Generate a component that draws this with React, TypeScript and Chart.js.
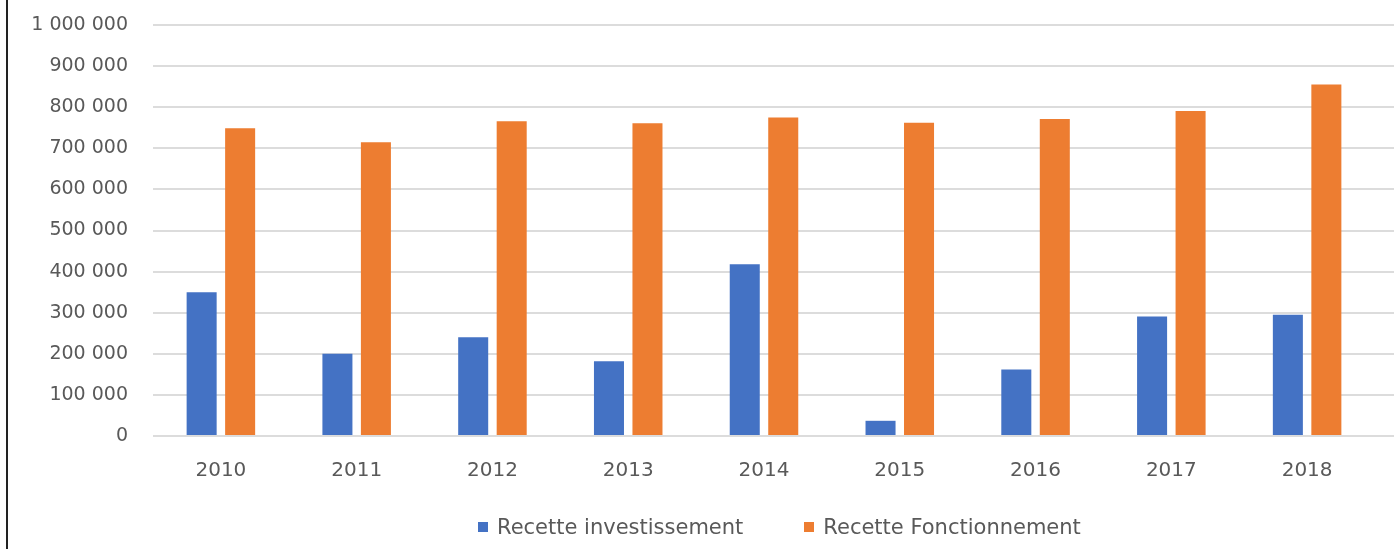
import React, { useEffect, useRef } from 'react';
import { Chart, registerables } from 'chart.js';

Chart.register(...registerables);

const years = ['2010', '2011', '2012', '2013', '2014', '2015', '2016', '2017', '2018'];
const investissement = [350000, 200000, 240000, 182000, 418000, 37000, 162000, 291000, 295000];
const fonctionnement = [749000, 715000, 766000, 761000, 775000, 762000, 771000, 791000, 855000];
const seriesLabels = ['Recette investissement', 'Recette Fonctionnement'];
const seriesColors = ['#4472C4', '#ED7D31'];
const yMin = 0;
const yMax = 1000000;
const yStep = 100000;

const W = 1394;
const H = 549;
const FONT = '"DejaVu Sans", sans-serif';
const TEXT = '#595959';
const GRID = '#dcdcdc';

const fmt = (v: number) => String(v).replace(/\B(?=(\d{3})+(?!\d))/g, ' ');

const extendGrid = {
  id: 'extendGrid',
  beforeDatasetsDraw(chart: any) {
    const { ctx, chartArea, scales } = chart;
    const y = scales.y;
    ctx.save();
    ctx.strokeStyle = GRID;
    ctx.lineWidth = 2;
    y.ticks.forEach((_t: any, i: number) => {
      const py = Math.round(y.getPixelForTick(i));
      ctx.beginPath();
      ctx.moveTo(chartArea.right, py);
      ctx.lineTo(chart.width, py);
      ctx.stroke();
    });
    ctx.restore();
  },
};

export default function App() {
  const ref = useRef<HTMLCanvasElement>(null);

  useEffect(() => {
    if (!ref.current) return;
    const chart = new Chart(ref.current, {
      type: 'bar',
      data: {
        labels: years,
        datasets: [
          {
            label: seriesLabels[0],
            data: investissement,
            backgroundColor: seriesColors[0],
            categoryPercentage: 0.567,
            barPercentage: 0.78,
          },
          {
            label: seriesLabels[1],
            data: fonctionnement,
            backgroundColor: seriesColors[1],
            categoryPercentage: 0.567,
            barPercentage: 0.78,
          },
        ],
      },
      options: {
        responsive: false,
        animation: false,
        layout: { padding: { top: 25, right: 19, left: 0, bottom: 0 } },
        plugins: {
          legend: { display: false },
          tooltip: { enabled: false },
          title: { display: false },
        },
        scales: {
          x: {
            grid: { display: false },
            border: { display: false },
            ticks: {
              color: TEXT,
              font: { family: FONT, size: 20 },
              padding: 15,
            },
            afterFit: (s: any) => {
              s.height = 113;
            },
          },
          y: {
            min: yMin,
            max: yMax,
            grid: { color: GRID, lineWidth: 2, drawTicks: false },
            border: { display: false },
            ticks: {
              stepSize: yStep,
              color: TEXT,
              font: { family: FONT, size: 19 },
              padding: 25,
              callback: (v: any) => fmt(Number(v)),
            },
            afterFit: (s: any) => {
              s.width = 153;
              s.paddingTop = 0;
              s.paddingBottom = 0;
            },
          },
        },
      },
      plugins: [extendGrid],
    });
    return () => chart.destroy();
  }, []);

  return (
    <div style={{ position: 'absolute', left: 0, top: 0, width: W, height: H, background: '#fff', overflow: 'hidden' }}>
      <canvas ref={ref} width={W} height={H} style={{ position: 'absolute', left: 0, top: 0, width: W, height: H }} />
      <div style={{ position: 'absolute', left: 6, top: 0, width: 2, height: H, background: '#222' }} />
      <div
        style={{
          position: 'absolute',
          top: 513,
          left: 478,
          display: 'flex',
          alignItems: 'center',
          fontFamily: FONT,
          fontSize: 21,
          color: TEXT,
          whiteSpace: 'nowrap',
          lineHeight: '28px',
        }}
      >
        {seriesLabels.map((lab, i) => (
          <div key={lab} style={{ display: 'flex', alignItems: 'center', marginRight: i === 0 ? 61 : 0 }}>
            <span style={{ display: 'inline-block', width: 10, height: 10, background: seriesColors[i], marginRight: 9 }} />
            <span>{lab}</span>
          </div>
        ))}
      </div>
    </div>
  );
}
